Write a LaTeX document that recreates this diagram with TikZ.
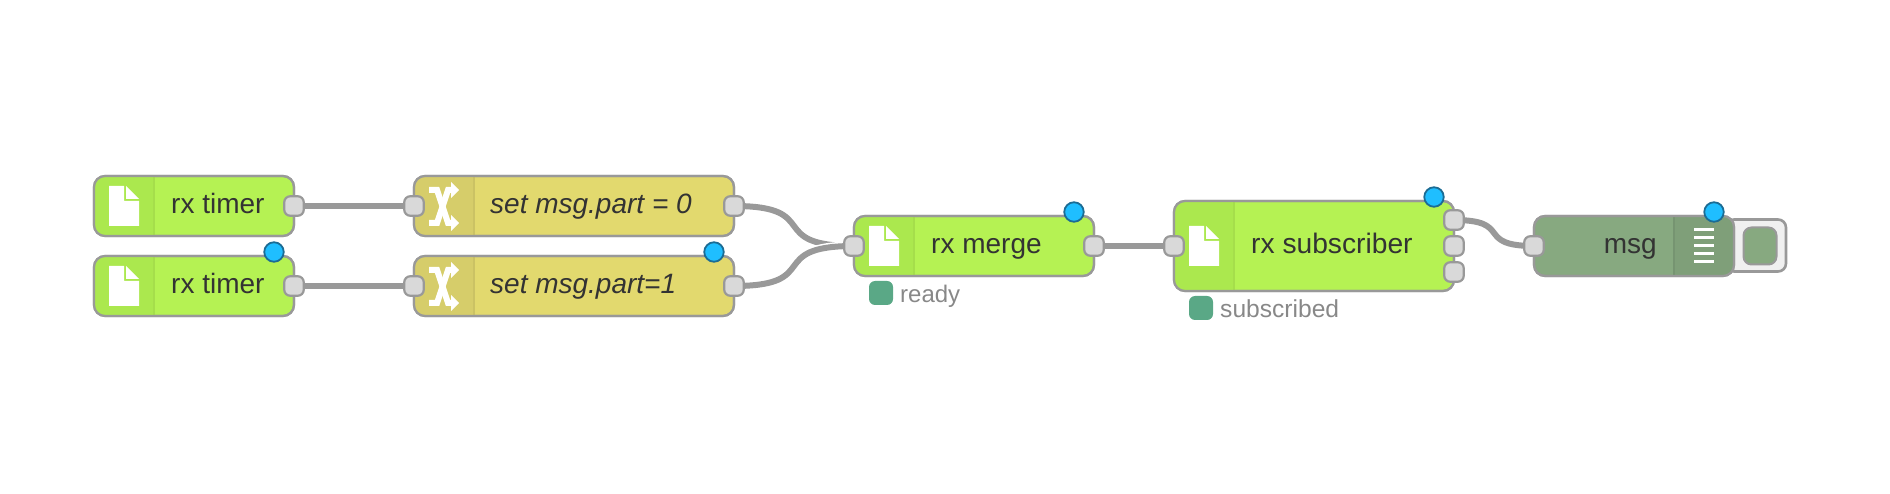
\documentclass[tikz,border=0pt]{standalone}
\usepackage{fontspec}
\setmainfont{Liberation Sans}
\usetikzlibrary{calc}
\pgfdeclarelayer{wires}
\pgfsetlayers{wires,main}
\definecolor{edge}{HTML}{999999}
\definecolor{portfill}{HTML}{D9D9D9}
\definecolor{ink}{HTML}{333333}
\definecolor{grn}{HTML}{B5F253}
\definecolor{grnd}{HTML}{ABE84E}
\definecolor{grnl}{HTML}{A5DE4B}
\definecolor{gld}{HTML}{E2D96E}
\definecolor{gldd}{HTML}{D6CD6A}
\definecolor{gldl}{HTML}{CBC264}
\definecolor{dbg}{HTML}{87A980}
\definecolor{dbgd}{HTML}{7F9F79}
\definecolor{dbgl}{HTML}{769471}
\definecolor{stat}{HTML}{5AA886}
\definecolor{statt}{HTML}{888888}
\definecolor{badge}{HTML}{1FBEFF}
\definecolor{badged}{HTML}{1C6C94}
\tikzset{
  x=1pt,y=-1pt,
  flowbox/.style={rectangle,rounded corners=11pt,draw=edge,line width=2.2pt,inner sep=0pt,outer sep=0pt},
  portbox/.style={rectangle,rounded corners=6pt,draw=edge,fill=portfill,line width=2.2pt,minimum width=19.5pt,minimum height=19.5pt,inner sep=0pt,outer sep=0pt},
  badgedot/.style={circle,draw=badged,fill=badge,line width=1.8pt,minimum size=19.5pt,inner sep=0pt},
  lbl/.style={anchor=base west,inner sep=0pt,text=ink,font=\fontsize{28}{28}\selectfont},
  statdot/.style={rectangle,rounded corners=6pt,fill=stat,minimum width=24pt,minimum height=24pt,inner sep=0pt},
  statlbl/.style={anchor=base west,inner sep=0pt,text=statt,font=\fontsize{24}{24}\selectfont},
  wire/.style={draw=edge,line width=6pt},
  casing/.style={draw=white,line width=9pt},
}
% name, x1, y1, x2, y2, fill, shade colour, divider colour, divider x
\newcommand{\flownode}[9]{%
  \node[flowbox,fill=#6,minimum width=#4-#2,minimum height=#5-#3] (#1) at ({(#2+#4)/2},{(#3+#5)/2}) {};
  \begin{scope}
    \clip[rounded corners=11pt] (#2,#3) rectangle (#4,#5);
    \fill[#7] (\shadeA,#3) rectangle (\shadeB,#5);
    \fill[#8] (#9-0.7,#3) rectangle (#9+0.7,#5);
  \end{scope}
  \node[flowbox,minimum width=#4-#2,minimum height=#5-#3] at ({(#2+#4)/2},{(#3+#5)/2}) {};
}
% page icon, top left corner
\newcommand{\pageicon}[2]{%
  \fill[white] (#1,#2) -- ++(15,0) -- ++(0,15) -- ++(15,0) -- ++(0,25) -- ++(-30,0) -- cycle;
  \fill[white] ({#1+17},#2) -- ({#1+30},{#2+13}) -- ({#1+17},{#2+13}) -- cycle;
}
% shuffle icon, top left corner
\newcommand{\shuffleicon}[2]{%
  \begin{scope}[shift={(#1,#2)}]
    \draw[white,line width=6pt,line join=miter] (0,8) -- (8,8) -- (19,41) -- (23,41);
    \draw[white,line width=6pt,line join=miter] (0,41) -- (8,41) -- (19,8) -- (23,8);
    \fill[white] (22,0) -- (30,8) -- (22,16) -- cycle;
    \fill[white] (22,33) -- (30,41) -- (22,49) -- cycle;
  \end{scope}
}
\begin{document}
\begin{tikzpicture}
\useasboundingbox (0,0) rectangle (1890,494);

% --- debug button behind msg node
\node[rectangle,rounded corners=8pt,draw=edge,fill=black!6,line width=2.6pt,minimum width=60pt,minimum height=52pt,inner sep=0pt] (btn) at (1756,245.5) {};
\node[rectangle,rounded corners=8pt,draw=edge,fill=dbg,line width=2pt,minimum width=33pt,minimum height=37pt,inner sep=0pt] (btnin) at (1760,246) {};

% --- flow nodes
\def\shadeA{94}\def\shadeB{154}
\flownode{tA}{94}{176}{294}{236}{grn}{grnd}{grnl}{154}
\pageicon{109}{186}
\flownode{tB}{94}{256}{294}{316}{grn}{grnd}{grnl}{154}
\pageicon{109}{266}
\def\shadeA{414}\def\shadeB{474}
\flownode{sA}{414}{176}{734}{236}{gld}{gldd}{gldl}{474}
\shuffleicon{429}{182}
\flownode{sB}{414}{256}{734}{316}{gld}{gldd}{gldl}{474}
\shuffleicon{429}{262}
\def\shadeA{854}\def\shadeB{914}
\flownode{mg}{854}{216}{1094}{276}{grn}{grnd}{grnl}{914}
\pageicon{869}{226}
\def\shadeA{1174}\def\shadeB{1234}
\flownode{sub}{1174}{201}{1454}{291}{grn}{grnd}{grnl}{1234}
\pageicon{1189}{226}
\def\shadeA{1674}\def\shadeB{1734}
\flownode{dbgn}{1534}{216}{1734}{276}{dbg}{dbgd}{dbgl}{1674}
\foreach \yy in {230,238,246,254,262}
  \fill[white] (1694,\yy-1.5) rectangle (1714,\yy+1.5);

% --- labels
\node[lbl] (ltA) at (171,214) {rx timer};
\node[lbl] (ltB) at (171,294) {rx timer};
\node[lbl,font=\fontsize{28}{28}\selectfont\itshape] (lsA) at (490,214) {set msg.part = 0};
\node[lbl,font=\fontsize{28}{28}\selectfont\itshape] (lsB) at (490,294) {set msg.part=1};
\node[lbl] (lmg) at (931,254) {rx merge};
\node[lbl,font=\fontsize{28.2}{28}\selectfont] (lsub) at (1251,254) {rx subscriber};
\node[lbl,anchor=base east] (ldbg) at (1657,254) {msg};

% --- ports
\node[portbox] (tAo) at (294,206) {};
\node[portbox] (tBo) at (294,286) {};
\node[portbox] (sAi) at (414,206) {};
\node[portbox] (sBi) at (414,286) {};
\node[portbox] (sAo) at (734,206) {};
\node[portbox] (sBo) at (734,286) {};
\node[portbox] (mgi) at (854,246) {};
\node[portbox] (mgo) at (1094,246) {};
\node[portbox] (subi) at (1174,246) {};
\node[portbox] (subo1) at (1454,220) {};
\node[portbox] (subo2) at (1454,246) {};
\node[portbox] (subo3) at (1454,272) {};
\node[portbox] (dbgi) at (1534,246) {};

% --- changed badges
\node[badgedot] (bB) at (274,252) {};
\node[badgedot] (bS) at (714,252) {};
\node[badgedot] (bM) at (1074,212) {};
\node[badgedot] (bU) at (1434,197) {};
\node[badgedot] (bD) at (1714,212) {};

% --- status
\node[statdot] (stM) at (881,293) {};
\node[statlbl] (stMl) at (900,302) {ready};
\node[statdot] (stU) at (1201,308) {};
\node[statlbl,font=\fontsize{24.6}{24}\selectfont] (stUl) at (1220,317) {subscribed};

% --- wires
\begin{pgfonlayer}{wires}
  \draw[wire] (tAo.center) -- (sAi.center);
  \draw[wire] (tBo.center) -- (sBi.center);
  \draw[wire] (sAo.center) .. controls +(90,0) and +(-90,0) .. (mgi.center);
  \draw[casing] (sBo.center) .. controls +(90,0) and +(-90,0) .. (mgi.center);
  \draw[wire] (sBo.center) .. controls +(90,0) and +(-90,0) .. (mgi.center);
  \draw[wire] (mgo.center) -- (subi.center);
  \draw[wire] (subo1.center) .. controls +(60,0) and +(-60,0) .. (dbgi.center);
\end{pgfonlayer}
\end{tikzpicture}
\end{document}
